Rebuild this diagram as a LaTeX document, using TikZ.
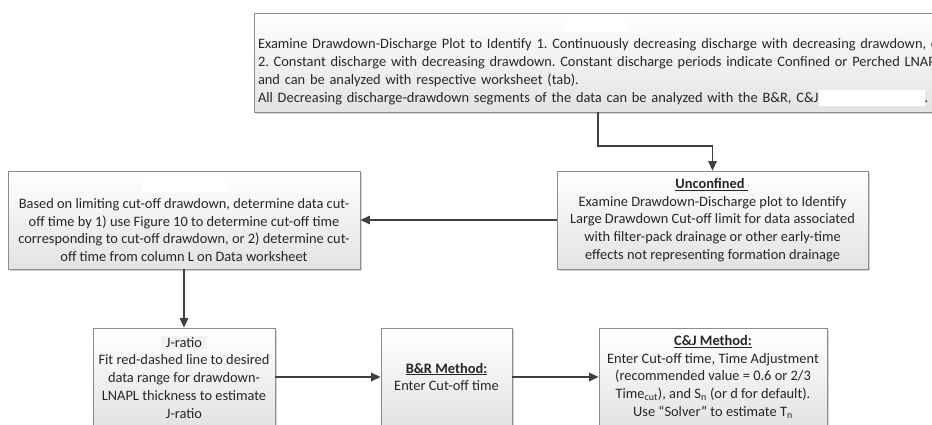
\documentclass[tikz,border=0pt]{standalone}
\usepackage{fontspec}
\setmainfont{Carlito}
\frenchspacing
\usetikzlibrary{arrows.meta,shadows,calc}
\definecolor{boxline}{HTML}{8C8C8C}
\definecolor{arrowc}{HTML}{404040}
\definecolor{txt}{HTML}{262626}
\begin{document}
\begin{tikzpicture}[x=1pt,y=-1pt,
  every node/.style={font=\fontsize{14.4pt}{17.7pt}\selectfont, text=txt},
  flowbox/.style={draw=boxline, line width=0.8pt, top color=white, bottom color=black!11,
    inner sep=0pt, align=center,
    drop shadow={shadow xshift=1.6pt, shadow yshift=-1.6pt, fill=black!28, opacity=0.6}},
  patch/.style={fill=white, draw=none, inner sep=0pt},
  conn/.style={draw=arrowc, line width=1.3pt, -{Triangle[length=9.5pt,width=8.5pt]}}
]
\useasboundingbox (0,0) rectangle (932,424);
\clip (0,0) rectangle (932,424);
\fill[white] (0,0) rectangle (932,424);

% top box
\node[flowbox, minimum width=760pt, minimum height=99pt, text width=752pt, align=left]
  (topbox) at (634,62.5) {\strut\\
  Examine Drawdown-Discharge Plot to Identify 1. Continuously decreasing discharge with decreasing drawdown, or\\
  2. Constant discharge with decreasing drawdown. Constant discharge periods indicate Confined or Perched LNAPL\\
  and can be analyzed with respective worksheet (tab).\\
  All Decreasing discharge-drawdown segments of the data can be analyzed with the B\&R, C\&J\textcolor{white}{\rule[-4pt]{106pt}{16pt}}.};
\node[patch, minimum width=62pt, minimum height=12pt] (patchA) at (596,25.5) {};

% unconfined box
\node[flowbox, minimum width=311pt, minimum height=98pt] (unconf) at (712.5,220)
  {\underline{\textbf{Unconfined}\ }\textcolor{gray}{\scriptsize ·}\\
   Examine Drawdown-Discharge plot to Identify\\
   Large Drawdown Cut-off limit for data associated\\
   with filter-pack drainage or other early-time\\
   effects not representing formation drainage};

% left box
\node[flowbox, minimum width=352pt, minimum height=98pt] (leftbox) at (184,220)
  {\strut\\
   Based on limiting cut-off drawdown, determine data cut-\\
   off time by 1) use Figure 10 to determine cut-off time\\
   corresponding to cut-off drawdown, or 2) determine cut-\\
   off time from column L on Data worksheet};
\node[patch, minimum width=85pt, minimum height=14pt] (patchC) at (184.5,185) {};

% bottom row
\node[flowbox, minimum width=182pt, minimum height=98pt] (jratio) at (184,377)
  {{\setlength{\fboxsep}{1.5pt}\colorbox{black!5}{\ J-ratio\ }}\\
   Fit red-dashed line to desired\\
   data range for drawdown-\\
   LNAPL thickness to estimate\\
   J-ratio};
\node[flowbox, minimum width=131pt, minimum height=98pt] (br) at (446.5,377)
  {\underline{\textbf{B\&R Method:}}\\
   Enter Cut-off time};
\node[flowbox, minimum width=228pt, minimum height=98pt] (cj) at (713,377)
  {\underline{\textbf{C\&J Method:}}\\
   Enter Cut-off time, Time Adjustment\\
   (recommended value = 0.6 or 2/3\\
   Time\textsubscript{cut}), and S\textsubscript{n} (or d for default).\\
   Use “Solver” to estimate T\textsubscript{n}};

% connectors
\coordinate (bendA) at (598,146);
\draw[conn] (topbox.south -| bendA) -- (bendA) -| (unconf.north);
\draw[conn] (unconf.west) -- (leftbox.east);
\draw[conn] (leftbox.south) -- (jratio.north);
\draw[conn] (jratio.east) -- (br.west);
\draw[conn] (br.east) -- (cj.west);
\end{tikzpicture}
\end{document}
